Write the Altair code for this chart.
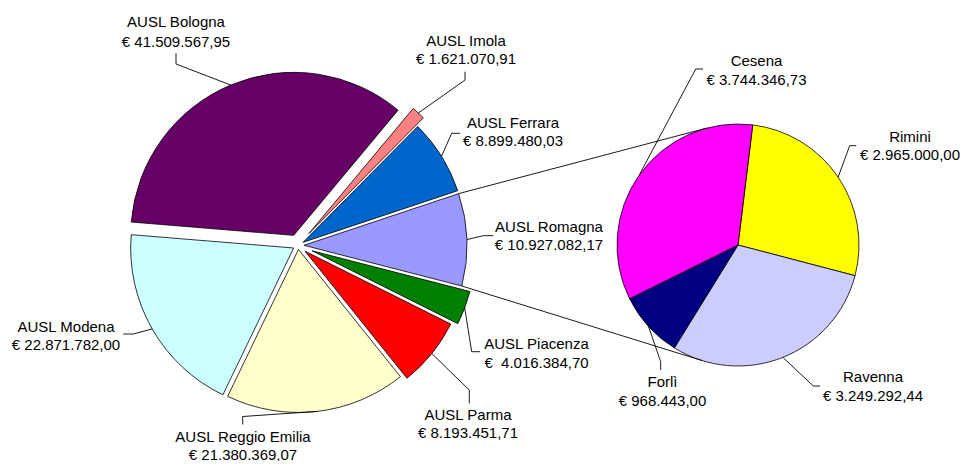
import math
import altair as alt
import pandas as pd

# ---------------- data ----------------
main_names = ["AUSL Bologna", "AUSL Imola", "AUSL Ferrara", "AUSL Romagna",
              "AUSL Piacenza", "AUSL Parma", "AUSL Reggio Emilia", "AUSL Modena"]
main_values = [41509567.95, 1621070.91, 8899480.03, 10927082.17,
               4016384.70, 8193451.71, 21380369.07, 22871782.00]
other_index = 3  # "AUSL Romagna" is split in the secondary pie

sub_names = ["Rimini", "Ravenna", "Forlì", "Cesena"]
sub_values = [2965000.00, 3249292.44, 968443.00, 3744346.73]

# ---------------- styles ----------------
main_colors = ["#660066", "#FF8080", "#0066CC", "#9999FF",
               "#008000", "#FF0000", "#FFFFCC", "#CCFFFF"]
sub_colors = ["#FFFF00", "#CCCCFF", "#000080", "#FF00FF"]
FONT = "Liberation Sans"
FONT_SIZE = 15

# ---------------- layout (page pixel coordinates) ----------------
W, H, M = 954, 453, 8
main_center = (298, 245.5)
main_r = 163
main_rot = -2.0            # degrees: centre of the split slice relative to 3 o'clock
main_explode = [11, 16, 6, 6, 15, 9, 4, 5]
sub_center = (738, 245)
sub_r = 121
sub_start = 7.0            # degrees clockwise from 12 o'clock
sub_explode = [0, 0, 0, 0]

# label block: centre x, name y, value y, stub x, stub y, bend x, bend y
main_label_layout = [
    (176, 21.7, 41.7, 176, 53.3, 176, 64),
    (466, 40.5, 58.5, 465, 71.7, 465, 80),
    (513, 122.5, 141, 460, 133.3, 451.7, 133.3),
    (549, 226.7, 245, 493.3, 235.7, 483.3, 235.7),
    (536.5, 344.3, 362.7, 480, 351.7, 471.7, 351.7),
    (468, 415, 433.3, 469.3, 403.3, 469.3, 390),
    (243, 436.5, 454.5, 242.7, 424.5, 242.7, 416.5),
    (66, 326.7, 345, 123.3, 334, 133.3, 334),
]
sub_label_layout = [
    (910, 136.7, 155, 856.3, 145.7, 849.7, 145.7),
    (873, 376.7, 395.7, 820, 386, 813.3, 386),
    (662.5, 381.7, 400.7, 660.7, 370, 660.7, 361.7),
    (756.5, 61, 80, 703, 69, 695.7, 69),
]
value_gap = {"AUSL Piacenza": "\u00a0\u00a0"}


def eur(name, v):
    s = f"{v:,.2f}".replace(",", "X").replace(".", ",").replace("X", ".")
    return "€" + value_gap.get(name, " ") + s


def pie_frame(names, values, colors, start_deg, explode, center, r):
    total = sum(values)
    rows, cum = [], 0.0
    for i, (n, v) in enumerate(zip(names, values)):
        c0, c1 = cum, cum + v
        cum = c1
        a_start = start_deg + c0 / total * 360
        a_end = start_deg + c1 / total * 360
        mid = math.radians((a_start + a_end) / 2)
        px = center[0] + explode[i] * math.sin(mid)
        py = center[1] - explode[i] * math.cos(mid)
        rows.append(dict(name=n, value=v, c0=c0, c1=c1, color=colors[i],
                         px=px, py=py, a_start=a_start, a_end=a_end,
                         ex=px + r * math.sin(mid), ey=py - r * math.cos(mid)))
    return pd.DataFrame(rows), total


main_total = sum(main_values)
main_start = 90 + main_rot - (sum(main_values[:other_index]) + main_values[other_index] / 2) / main_total * 360
df_main, _ = pie_frame(main_names, main_values, main_colors, main_start,
                       main_explode, main_center, main_r)
df_sub, sub_total = pie_frame(sub_names, sub_values, sub_colors, sub_start,
                              sub_explode, sub_center, sub_r)

# connector lines: tangents from the split slice corners to the secondary pie
o = df_main.iloc[other_index]
conn = []
for ang, pick in ((o.a_start, min), (o.a_end, max)):
    a = math.radians(ang)
    P = (o.px + main_r * math.sin(a), o.py - main_r * math.cos(a))
    dx, dy = sub_center[0] - P[0], sub_center[1] - P[1]
    dist = math.hypot(dx, dy)
    L = math.sqrt(dist ** 2 - sub_r ** 2)
    alpha = math.asin(sub_r / dist)
    ux, uy = dx / dist, dy / dist
    cands = []
    for s in (1, -1):
        b = s * alpha
        tx = ux * math.cos(b) - uy * math.sin(b)
        ty = ux * math.sin(b) + uy * math.cos(b)
        cands.append((P[0] + L * tx, P[1] + L * ty))
    T = pick(cands, key=lambda p: p[1])
    conn.append(dict(x=P[0], y=P[1], x2=T[0], y2=T[1]))
df_conn = pd.DataFrame(conn)

# labels and leader lines
text_rows, lead_rows = [], []
for df, lay in ((df_main, main_label_layout), (df_sub, sub_label_layout)):
    for (_, row), (lx, ny, vy, sx, sy, bx, by) in zip(df.iterrows(), lay):
        text_rows.append(dict(x=lx, y=ny, t=row["name"]))
        text_rows.append(dict(x=lx, y=vy, t=eur(row["name"], row["value"])))
        for k, (x, y) in enumerate(((sx, sy), (bx, by), (row.ex, row.ey))):
            lead_rows.append(dict(id=row["name"], k=k, x=x, y=y))
df_text = pd.DataFrame(text_rows)
df_lead = pd.DataFrame(lead_rows)

xs = alt.Scale(domain=[M, M + W], range=[0, W], nice=False, zero=False)
ys = alt.Scale(domain=[M, M + H], range=[0, H], nice=False, zero=False)


def arc_layer(df, total, start_deg, r):
    t0 = math.radians(start_deg)
    return alt.Chart(df).mark_arc(radius=r, stroke="black", strokeWidth=0.8).encode(
        x=alt.X("px:Q", scale=xs, axis=None),
        y=alt.Y("py:Q", scale=ys, axis=None),
        theta=alt.Theta("c0:Q", stack=None,
                        scale=alt.Scale(domain=[0, total], range=[t0, t0 + 2 * math.pi])),
        theta2="c1:Q",
        color=alt.Color("color:N", scale=None, legend=None),
    )


main_arc = arc_layer(df_main, main_total, main_start, main_r)
sub_arc = arc_layer(df_sub, sub_total, sub_start, sub_r)

connectors = alt.Chart(df_conn).mark_rule(color="black", strokeWidth=0.9).encode(
    x=alt.X("x:Q", scale=xs, axis=None), y=alt.Y("y:Q", scale=ys, axis=None),
    x2="x2:Q", y2="y2:Q")

leaders = alt.Chart(df_lead).mark_line(color="black", strokeWidth=0.9).encode(
    x=alt.X("x:Q", scale=xs, axis=None), y=alt.Y("y:Q", scale=ys, axis=None),
    detail="id:N", order="k:Q")

texts = alt.Chart(df_text).mark_text(font=FONT, fontSize=FONT_SIZE, color="black",
                                     align="center", baseline="middle").encode(
    x=alt.X("x:Q", scale=xs, axis=None), y=alt.Y("y:Q", scale=ys, axis=None),
    text="t:N")

chart = alt.layer(main_arc, sub_arc, connectors, leaders, texts).resolve_scale(
    theta="independent"
).properties(width=W, height=H, padding=0, autosize="none",
             background="white").configure_view(stroke=None)

chart.save("out.html", embed_options={"renderer": "svg", "actions": False})
